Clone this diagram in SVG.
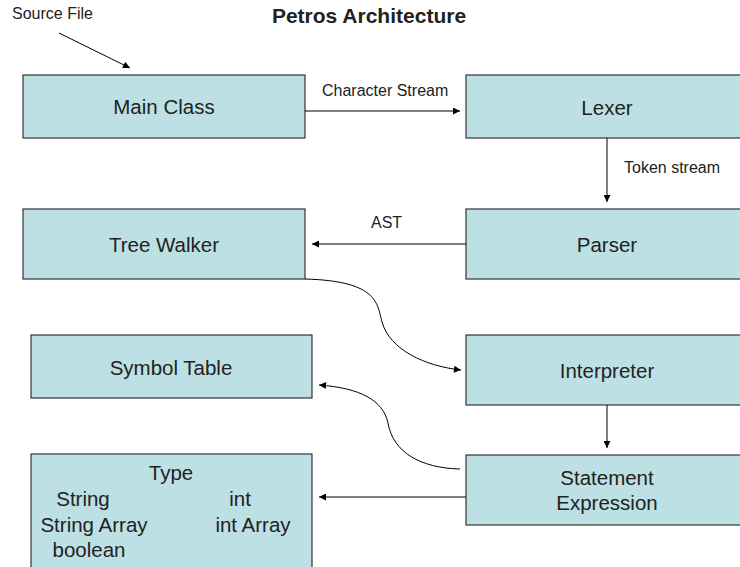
<svg xmlns="http://www.w3.org/2000/svg" width="740" height="567" viewBox="0 0 740 567">
<defs>
<marker id="ah" viewBox="0 0 10 10" refX="10" refY="5" markerWidth="9" markerHeight="7" markerUnits="userSpaceOnUse" orient="auto">
<path d="M0,0 L10,5 L0,10 Z" fill="#000"/>
</marker>
<style>
.box{fill:#BCE0E3;stroke:#333;stroke-width:1.2}
.lbl{font-family:"Liberation Sans",Arial,sans-serif;font-size:20.5px;fill:#222;text-anchor:middle}
.sm{font-family:"Liberation Sans",Arial,sans-serif;font-size:16px;fill:#222}
.ttl{font-family:"Liberation Sans",Arial,sans-serif;font-size:21px;font-weight:bold;fill:#222;text-anchor:middle}
.c{fill:none;stroke:#000;stroke-width:1;marker-end:url(#ah)}
</style>
</defs>
<rect width="740" height="567" fill="#fff"/>
<text class="ttl" x="369" y="23">Petros Architecture</text>
<text class="sm" x="12" y="19">Source File</text>

<g id="main-class"><rect class="box" x="23" y="75" width="282" height="63"/><text class="lbl" x="164" y="114">Main Class</text></g>
<g id="lexer"><rect class="box" x="466" y="75" width="290" height="63"/><text class="lbl" x="607" y="115">Lexer</text></g>
<g id="tree-walker"><rect class="box" x="23" y="209" width="282" height="70"/><text class="lbl" x="164" y="252">Tree Walker</text></g>
<g id="parser"><rect class="box" x="466" y="209" width="290" height="70"/><text class="lbl" x="607" y="252">Parser</text></g>
<g id="symbol-table"><rect class="box" x="31" y="335" width="281" height="63"/><text class="lbl" x="171" y="375">Symbol Table</text></g>
<g id="interpreter"><rect class="box" x="466" y="335" width="290" height="70"/><text class="lbl" x="607" y="378">Interpreter</text></g>
<g id="statement-expression"><rect class="box" x="466" y="455" width="290" height="70"/><text class="lbl" x="607" y="485">Statement</text><text class="lbl" x="607" y="510">Expression</text></g>
<g id="type"><rect class="box" x="31" y="454" width="281" height="130"/>
<text class="lbl" x="171" y="480">Type</text>
<text class="lbl" x="83" y="506">String</text>
<text class="lbl" x="240" y="506">int</text>
<text class="lbl" x="94" y="532">String Array</text>
<text class="lbl" x="253" y="532">int Array</text>
<text class="lbl" x="89" y="557">boolean</text>
</g>

<g id="connectors">
<line class="c" x1="59" y1="33" x2="130" y2="68"/>
<line class="c" x1="305" y1="111" x2="460" y2="111"/>
<text class="sm" x="322" y="96">Character Stream</text>
<line class="c" x1="607" y1="138" x2="607" y2="202"/>
<text class="sm" x="624" y="173">Token stream</text>
<line class="c" x1="466" y1="244" x2="312" y2="244"/>
<text class="sm" x="371" y="228">AST</text>
<path class="c" d="M305,279 C380,281 377,305 382,322 C390,350 425,366 461,370"/>
<path class="c" d="M460,469 C420,468 393,452 388,423 C383,400 360,388 319,385"/>
<line class="c" x1="607" y1="405" x2="607" y2="448"/>
<line class="c" x1="466" y1="497" x2="319" y2="497"/>
</g>
</svg>
